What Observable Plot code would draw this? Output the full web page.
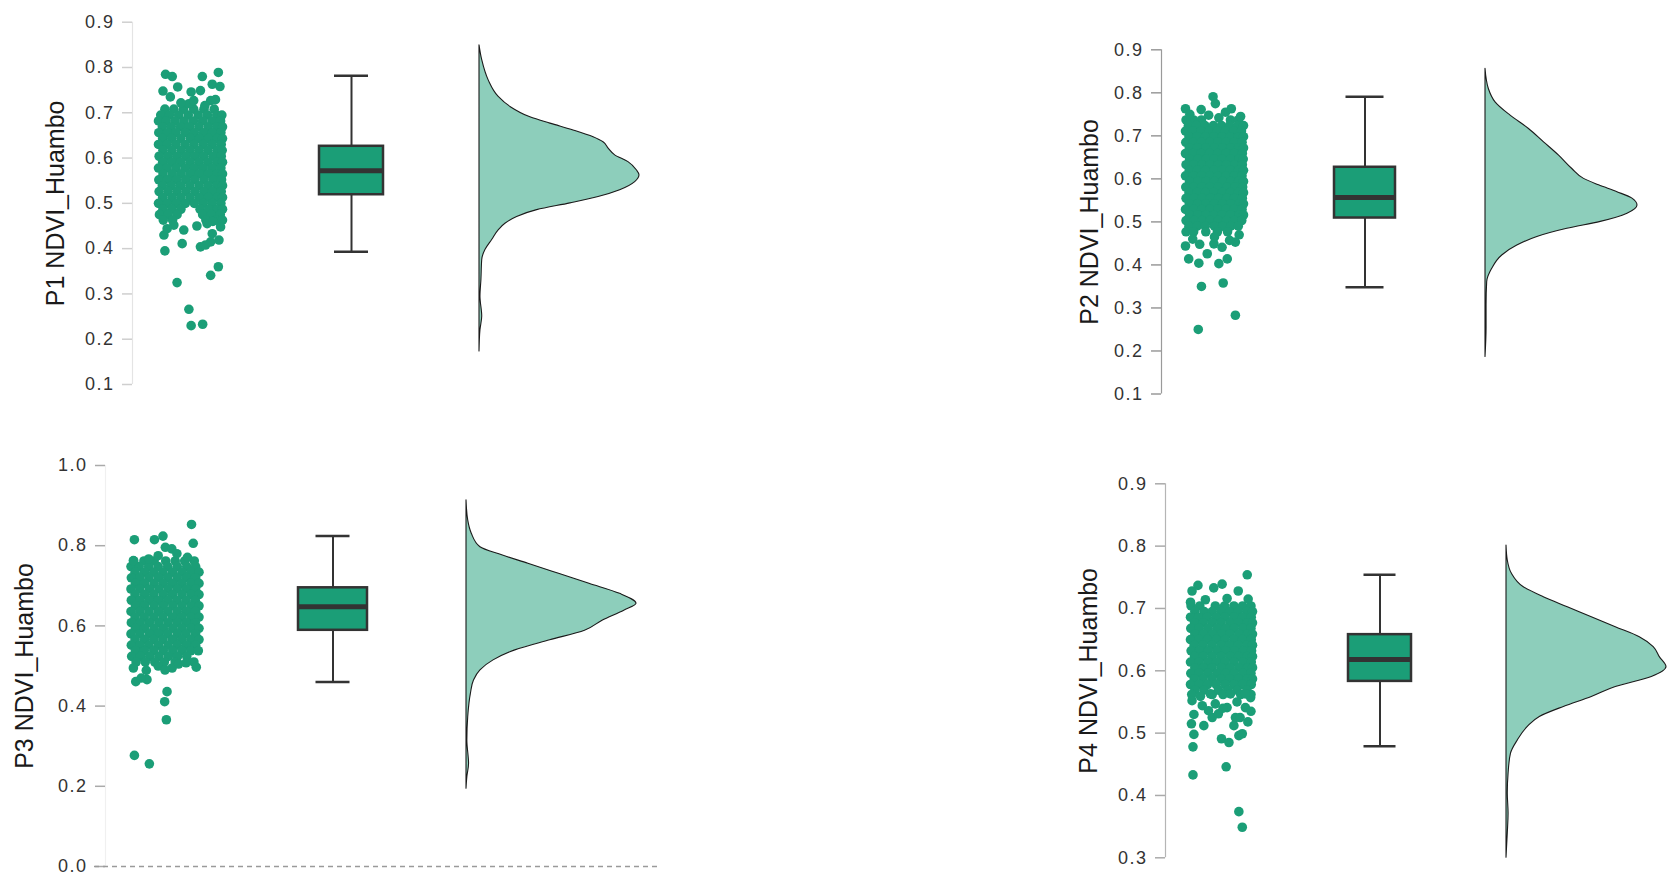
<!DOCTYPE html>
<html><head><meta charset="utf-8">
<script src="https://cdn.jsdelivr.net/npm/d3@7"></script>
<script src="https://cdn.jsdelivr.net/npm/@observablehq/plot@0.6"></script>
<style>
body{margin:0;background:#fff;}
#page{position:relative;width:1669px;height:878px;overflow:hidden;background:#fff;}
#page svg{position:absolute;}
#page g[aria-label="y-axis tick label"] text{letter-spacing:1.5px;}
</style></head><body><div id="page"></div>
<script>
// ---------- DATA ----------
const panelTitles = ["P1 NDVI_Huambo", "P2 NDVI_Huambo", "P3 NDVI_Huambo", "P4 NDVI_Huambo"];
const yDomains = [[0.1, 0.9], [0.1, 0.9], [0.0, 1.0], [0.3, 0.9]];
const yTicks = [
  [0.1, 0.2, 0.3, 0.4, 0.5, 0.6, 0.7, 0.8, 0.9],
  [0.1, 0.2, 0.3, 0.4, 0.5, 0.6, 0.7, 0.8, 0.9],
  [0.0, 0.2, 0.4, 0.6, 0.8, 1.0],
  [0.3, 0.4, 0.5, 0.6, 0.7, 0.8, 0.9]
];

// box plot statistics per panel
const whiskerLow  = [0.393, 0.348, 0.460, 0.479];
const quartile1   = [0.519, 0.509, 0.589, 0.583];
const medians     = [0.572, 0.557, 0.648, 0.618];
const quartile3   = [0.626, 0.627, 0.695, 0.658];
const whiskerHigh = [0.782, 0.791, 0.824, 0.754];

// density curves (value, relative density)
const densV1 = [0.849,0.816,0.771,0.735,0.713,0.69,0.676,0.661,0.646,0.635,0.621,0.606,0.591,0.573,0.562,0.547,0.529,0.514,0.5,0.485,0.47,0.455,0.441,0.419,0.397,0.375,0.331,0.294,0.25,0.22,0.173];
const densW1 = [0,0.017,0.058,0.12,0.193,0.318,0.443,0.588,0.713,0.775,0.807,0.848,0.931,0.983,1.0,0.973,0.879,0.744,0.568,0.36,0.235,0.162,0.121,0.079,0.037,0.017,0.012,0.006,0.017,0.006,0];
const densV2 = [0.856,0.809,0.778,0.747,0.716,0.685,0.654,0.623,0.6,0.585,0.569,0.554,0.538,0.519,0.5,0.484,0.465,0.445,0.422,0.391,0.36,0.306,0.252,0.186];
const densW2 = [0,0.022,0.066,0.165,0.286,0.385,0.484,0.571,0.648,0.747,0.868,0.967,1.0,0.934,0.758,0.538,0.341,0.209,0.11,0.044,0.011,0.007,0.007,0];
const densV3 = [0.913,0.863,0.83,0.796,0.776,0.755,0.73,0.705,0.68,0.655,0.638,0.613,0.588,0.564,0.539,0.514,0.489,0.464,0.431,0.372,0.314,0.256,0.223,0.194];
const densW3 = [0,0.01,0.031,0.082,0.21,0.364,0.544,0.723,0.903,1,0.928,0.8,0.697,0.492,0.287,0.159,0.082,0.044,0.026,0.01,0.005,0.015,0.005,0];
const densV4 = [0.801,0.777,0.756,0.734,0.718,0.702,0.686,0.67,0.654,0.638,0.622,0.606,0.59,0.574,0.558,0.542,0.526,0.51,0.488,0.467,0.435,0.403,0.371,0.339,0.3];
const densW4 = [0,0.008,0.033,0.108,0.233,0.383,0.533,0.683,0.833,0.92,0.958,1,0.908,0.683,0.533,0.358,0.208,0.133,0.07,0.028,0.013,0.008,0.013,0.008,0];

// jittered raw points: dense core rows [value, [jitters]] and single points [value, jitter]
const core1 = [
  [0.708,[-0.8,-0.52,-0.22,0.1,0.42,0.74]],
  [0.695,[-0.93,-0.66,-0.37,-0.07,0.24,0.53,0.82,0.98]],
  [0.682,[-1,-0.76,-0.48,-0.2,0.09,0.38,0.67,0.94]],
  [0.669,[-0.88,-0.6,-0.31,-0.03,0.26,0.55,0.82,1]],
  [0.656,[-0.99,-0.72,-0.45,-0.16,0.12,0.41,0.69,0.95]],
  [0.643,[-0.87,-0.59,-0.3,0,0.28,0.56,0.83,1]],
  [0.630,[-1,-0.74,-0.46,-0.17,0.11,0.4,0.68,0.96]],
  [0.617,[-0.86,-0.58,-0.29,-0.01,0.27,0.55,0.84,0.99]],
  [0.604,[-0.98,-0.71,-0.43,-0.15,0.13,0.41,0.7,0.96]],
  [0.591,[-0.87,-0.59,-0.31,-0.02,0.26,0.54,0.82,1]],
  [0.578,[-1,-0.73,-0.45,-0.16,0.12,0.4,0.68,0.95]],
  [0.565,[-0.86,-0.57,-0.29,0,0.28,0.56,0.83,1]],
  [0.552,[-0.99,-0.72,-0.44,-0.15,0.13,0.42,0.7,0.97]],
  [0.539,[-0.88,-0.6,-0.31,-0.02,0.27,0.55,0.82,1]],
  [0.526,[-0.98,-0.7,-0.42,-0.14,0.14,0.42,0.69,0.96]],
  [0.513,[-0.87,-0.58,-0.3,-0.01,0.28,0.56,0.84,1]],
  [0.500,[-1,-0.72,-0.44,-0.16,0.12,0.4,0.68,0.95]],
  [0.487,[-0.86,-0.58,-0.3,0.3,0.57,0.84,1]],
  [0.475,[-0.97,-0.7,-0.42,0.38,0.66,0.93]],
  [0.463,[-0.85,-0.56,0.48,0.8,1]]
];
const single1 = [[0.785,-0.78],[0.780,-0.57],[0.780,0.37],[0.789,0.87],[0.748,-0.86],[0.757,-0.40],[0.746,0.02],[0.749,0.31],[0.763,0.68],[0.758,0.92],[0.735,-0.63],[0.727,0.63],[0.720,-0.05],[0.729,0.78],[0.727,0.10],[0.722,-0.3],[0.716,0.45],
  [0.430,-0.83],[0.395,-0.80],[0.411,-0.26],[0.404,0.31],[0.433,0.68],[0.419,0.89],[0.448,0.94],[0.452,-0.52],[0.441,-0.21],[0.444,-0.73],[0.455,0.52],[0.415,0.63],[0.408,0.47],[0.360,0.87],[0.341,0.63],[0.325,-0.42],[0.266,-0.05],[0.230,0.02],[0.233,0.38],[0.46,0.7],[0.45,0.2]];

const core2 = [
  [0.737,[-0.98,-0.72,-0.45,0.55,0.82]],
  [0.724,[-0.9,-0.62,-0.33,-0.04,0.24,0.52,0.8,1]],
  [0.711,[-1,-0.75,-0.47,-0.18,0.1,0.38,0.66,0.93]],
  [0.698,[-0.88,-0.6,-0.31,-0.02,0.26,0.54,0.82,1]],
  [0.685,[-0.99,-0.73,-0.45,-0.16,0.12,0.4,0.68,0.95]],
  [0.672,[-0.87,-0.59,-0.3,0,0.28,0.56,0.83,1]],
  [0.659,[-1,-0.74,-0.46,-0.17,0.11,0.4,0.68,0.96]],
  [0.646,[-0.86,-0.58,-0.29,-0.01,0.27,0.55,0.84,0.99]],
  [0.633,[-0.98,-0.71,-0.43,-0.15,0.13,0.41,0.7,0.96]],
  [0.620,[-0.87,-0.59,-0.31,-0.02,0.26,0.54,0.82,1]],
  [0.607,[-1,-0.73,-0.45,-0.16,0.12,0.4,0.68,0.95]],
  [0.594,[-0.86,-0.57,-0.29,0,0.28,0.56,0.83,1]],
  [0.581,[-0.99,-0.72,-0.44,-0.15,0.13,0.42,0.7,0.97]],
  [0.568,[-0.88,-0.6,-0.31,-0.02,0.27,0.55,0.82,1]],
  [0.555,[-0.98,-0.7,-0.42,-0.14,0.14,0.42,0.69,0.96]],
  [0.542,[-0.87,-0.58,-0.3,-0.01,0.28,0.56,0.84,1]],
  [0.529,[-1,-0.72,-0.44,-0.16,0.12,0.4,0.68,0.95]],
  [0.516,[-0.86,-0.58,-0.3,-0.02,0.27,0.55,0.84,1]],
  [0.503,[-0.98,-0.7,-0.43,-0.15,0.13,0.41,0.7,0.94]],
  [0.490,[-0.88,-0.6,-0.32,0.0,0.28,0.56,0.82]],
  [0.477,[-0.98,-0.72,-0.3,0.1,0.45]]
];
const single2 = [[0.791,-0.05],[0.775,0.03],[0.763,-1.0],[0.761,-0.46],[0.763,0.58],[0.755,0.38],[0.745,0.90],[0.742,0.15],[0.75,-0.85],[0.748,-0.2],
  [0.444,-1.0],[0.448,-0.51],[0.426,-0.25],[0.414,-0.89],[0.404,-0.54],[0.403,0.15],[0.414,0.44],[0.441,0.26],[0.453,0.72],[0.457,0.52],[0.449,-0.02],[0.46,-0.75],[0.465,0.0],[0.47,0.85],[0.350,-0.45],[0.358,0.30],[0.283,0.72],[0.250,-0.56]];

const core3 = [
  [0.762,[-0.92,-0.62,-0.32,0.02,0.3,0.58,0.86]],
  [0.748,[-1,-0.76,-0.48,-0.2,0.08,0.36,0.64,0.9]],
  [0.734,[-0.88,-0.6,-0.33,-0.06,0.22,0.5,0.76,1]],
  [0.720,[-0.99,-0.74,-0.47,-0.19,0.08,0.36,0.63,0.9]],
  [0.706,[-0.87,-0.6,-0.32,-0.05,0.22,0.49,0.76,1]],
  [0.692,[-1,-0.74,-0.46,-0.18,0.09,0.36,0.63,0.9]],
  [0.678,[-0.88,-0.6,-0.33,-0.05,0.22,0.5,0.77,1]],
  [0.664,[-0.99,-0.73,-0.46,-0.19,0.08,0.35,0.62,0.89]],
  [0.650,[-0.87,-0.6,-0.32,-0.05,0.23,0.5,0.77,1]],
  [0.636,[-1,-0.74,-0.47,-0.19,0.08,0.36,0.63,0.9]],
  [0.622,[-0.88,-0.61,-0.33,-0.06,0.22,0.49,0.76,1]],
  [0.608,[-0.99,-0.73,-0.46,-0.18,0.09,0.36,0.63,0.89]],
  [0.594,[-0.87,-0.6,-0.32,-0.05,0.23,0.5,0.77,1]],
  [0.580,[-1,-0.74,-0.46,-0.19,0.08,0.36,0.62,0.9]],
  [0.566,[-0.88,-0.6,-0.33,-0.06,0.22,0.49,0.76,1]],
  [0.552,[-0.99,-0.73,-0.47,-0.19,0.09,0.36,0.63,0.9]],
  [0.538,[-0.87,-0.61,-0.33,-0.05,0.23,0.5,0.76,0.98]],
  [0.524,[-0.98,-0.72,-0.45,-0.18,0.1,0.37,0.64]],
  [0.510,[-0.85,-0.58,-0.3,-0.02,0.3]]
];
const single3 = [[0.853,0.78],[0.815,-0.9],[0.815,-0.31],[0.824,-0.06],[0.806,0.83],[0.796,0.01],[0.792,0.2],[0.771,0.66],[0.763,-0.93],[0.767,-0.48],[0.78,0.35],[0.775,-0.2],
  [0.495,-0.93],[0.461,-0.86],[0.466,-0.53],[0.489,-0.55],[0.495,0.21],[0.51,0.85],[0.497,0.92],[0.508,0.62],[0.436,0.06],[0.411,-0.01],[0.366,0.04],[0.277,-0.9],[0.256,-0.46],[0.47,-0.7],[0.5,-0.2],[0.505,0.4],[0.49,0.0]];

const core4 = [
  [0.704,[-0.98,-0.7,-0.2,0.1,0.4,0.68,0.95]],
  [0.695,[-0.86,-0.56,-0.3,-0.02,0.26,0.54,0.82,1]],
  [0.686,[-1,-0.74,-0.46,-0.17,0.11,0.4,0.68,0.96]],
  [0.677,[-0.87,-0.59,-0.3,-0.02,0.27,0.55,0.83,1]],
  [0.668,[-0.99,-0.72,-0.44,-0.15,0.13,0.41,0.69,0.95]],
  [0.659,[-0.86,-0.58,-0.29,0,0.28,0.56,0.84,1]],
  [0.650,[-1,-0.73,-0.45,-0.16,0.12,0.4,0.68,0.96]],
  [0.641,[-0.88,-0.6,-0.31,-0.02,0.26,0.54,0.82,1]],
  [0.632,[-0.98,-0.71,-0.43,-0.15,0.13,0.42,0.7,0.97]],
  [0.623,[-0.87,-0.59,-0.3,-0.01,0.27,0.55,0.83,1]],
  [0.614,[-1,-0.72,-0.44,-0.16,0.12,0.4,0.69,0.96]],
  [0.605,[-0.86,-0.58,-0.3,0,0.28,0.56,0.84,1]],
  [0.596,[-0.99,-0.72,-0.44,-0.15,0.13,0.41,0.69,0.95]],
  [0.587,[-0.88,-0.6,-0.31,-0.02,0.26,0.55,0.83,1]],
  [0.578,[-1,-0.73,-0.45,-0.17,0.12,0.4,0.68,0.96]],
  [0.569,[-0.86,-0.57,-0.1,0.2,0.5,0.82]],
  [0.562,[-0.96,-0.3,0.05,0.62,0.95]]
];
const single4 = [[0.754,0.83],[0.737,-0.76],[0.728,-0.95],[0.733,-0.25],[0.739,0.02],[0.728,0.54],[0.716,0.18],[0.715,0.86],[0.714,-0.52],[0.71,-1.0],
  [0.552,-0.95],[0.544,-0.62],[0.530,-0.89],[0.515,-0.97],[0.512,-0.57],[0.498,-0.89],[0.478,-0.92],[0.433,-0.92],[0.525,-0.3],[0.531,-0.1],[0.541,0.18],[0.547,-0.2],[0.525,0.45],[0.512,0.4],[0.541,0.77],[0.557,0.94],[0.525,0.6],[0.491,0.0],[0.485,0.24],[0.496,0.56],[0.499,0.67],[0.446,0.15],[0.374,0.56],[0.349,0.67],[0.559,-0.68],[0.563,-0.36],[0.536,-0.42],[0.563,0.29],[0.563,0.77],[0.55,0.5],[0.54,0.05],[0.518,0.85],[0.535,0.95]];

const coreRows = [core1, core2, core3, core4];
const singles = [single1, single2, single3, single4];
const densValues = [densV1, densV2, densV3, densV4];
const densWidths = [densW1, densW2, densW3, densW4];

// ---------- LAYOUT (x in pixel-like units from the y axis) ----------
const layout = [
  {left:0, top:0, width:700, height:440, axisX:132, mTop:21.7, mBottom:56, cloud:58, jit:32, box:219, boxHalf:32, cap:17, dens:347, densW:160, axisColor:"#e4e4e4", tickColor:"#cfcfcf", titleDx:-77},
  {left:1000, top:0, width:669, height:440, axisX:161, mTop:49.3, mBottom:46.5, cloud:53, jit:29, box:203.5, boxHalf:30.5, cap:19, dens:324, densW:152, axisColor:"#9a9a9a", tickColor:"#9a9a9a", titleDx:-72},
  {left:0, top:440, width:700, height:438, axisX:105, mTop:25, mBottom:12, cloud:59.5, jit:34, box:227.5, boxHalf:34.5, cap:17, dens:361, densW:170, axisColor:"#f0f0f0", tickColor:"#aaaaaa", titleDx:-81, zeroLine:[-11, 555]},
  {left:1000, top:440, width:669, height:438, axisX:165, mTop:43.3, mBottom:20.7, cloud:56, jit:31, box:214.5, boxHalf:31.5, cap:16, dens:341, densW:160, axisColor:"#b5b5b5", tickColor:"#aaaaaa", titleDx:-77}
];

const green = "#1b9e77";
const dark = "#333333";
const page = document.getElementById("page");

layout.forEach((L, i) => {
  const pts = [];
  coreRows[i].forEach(([v, js]) => js.forEach(j => pts.push({v, j})));
  singles[i].forEach(([v, j]) => pts.push({v, j}));
  const dens = densValues[i].map((v, k) => ({v, w: densWidths[i][k]}));
  const stat = [{lo: whiskerLow[i], q1: quartile1[i], med: medians[i], q3: quartile3[i], hi: whiskerHigh[i]}];
  const yd = yDomains[i];

  const marks = [
    Plot.ruleX([yd], {x: () => 0, y1: d => d[0], y2: d => d[1], stroke: L.axisColor, strokeWidth: 1.2}),
    Plot.axisY({ticks: yTicks[i], tickSize: 10, tickPadding: 8, tickFormat: d3.format(".1f"),
      stroke: L.tickColor, strokeWidth: 1.5, fill: "#333", fontSize: 18, label: null}),
    Plot.text([panelTitles[i]], {text: d => d, frameAnchor: "left", dx: L.titleDx, rotate: -90,
      textAnchor: "middle", lineAnchor: "middle", fontSize: 25, fill: "#1a1a1a"})
  ];
  if (L.zeroLine) {
    marks.push(Plot.ruleY([0], {x1: () => L.zeroLine[0], x2: () => L.zeroLine[1], stroke: "#9a9a9a",
      strokeWidth: 1.6, strokeDasharray: "5,4"}));
  }
  marks.push(
    Plot.dot(pts, {x: d => L.cloud + d.j * L.jit, y: "v", r: 4.8, fill: green}),
    Plot.ruleX(stat, {x: () => L.box, y1: "lo", y2: "q1", stroke: dark, strokeWidth: 2}),
    Plot.ruleX(stat, {x: () => L.box, y1: "q3", y2: "hi", stroke: dark, strokeWidth: 2}),
    Plot.ruleY(stat, {y: "lo", x1: () => L.box - L.cap, x2: () => L.box + L.cap, stroke: dark, strokeWidth: 2.5}),
    Plot.ruleY(stat, {y: "hi", x1: () => L.box - L.cap, x2: () => L.box + L.cap, stroke: dark, strokeWidth: 2.5}),
    Plot.rect(stat, {x1: () => L.box - L.boxHalf, x2: () => L.box + L.boxHalf, y1: "q1", y2: "q3",
      fill: green, stroke: dark, strokeWidth: 2.5}),
    Plot.ruleY(stat, {y: "med", x1: () => L.box - L.boxHalf, x2: () => L.box + L.boxHalf, stroke: dark, strokeWidth: 5}),
    Plot.areaX(dens, {y: "v", x1: () => L.dens, x2: d => L.dens + d.w * L.densW, curve: "monotone-y",
      fill: green, fillOpacity: 0.5, stroke: "#1a1a1a", strokeWidth: 1.1})
  );

  const svg = Plot.plot({
    width: L.width, height: L.height,
    marginLeft: L.axisX, marginRight: 0, marginTop: L.mTop, marginBottom: L.mBottom,
    x: {type: "linear", domain: [0, L.width - L.axisX], axis: null},
    y: {type: "linear", domain: yd, axis: null},
    style: {fontFamily: "'Liberation Sans', Arial, sans-serif", background: "transparent", overflow: "visible"},
    marks
  });
  svg.style.left = L.left + "px";
  svg.style.top = L.top + "px";
  svg.style.maxWidth = "none";
  page.appendChild(svg);
});
</script></body></html>
